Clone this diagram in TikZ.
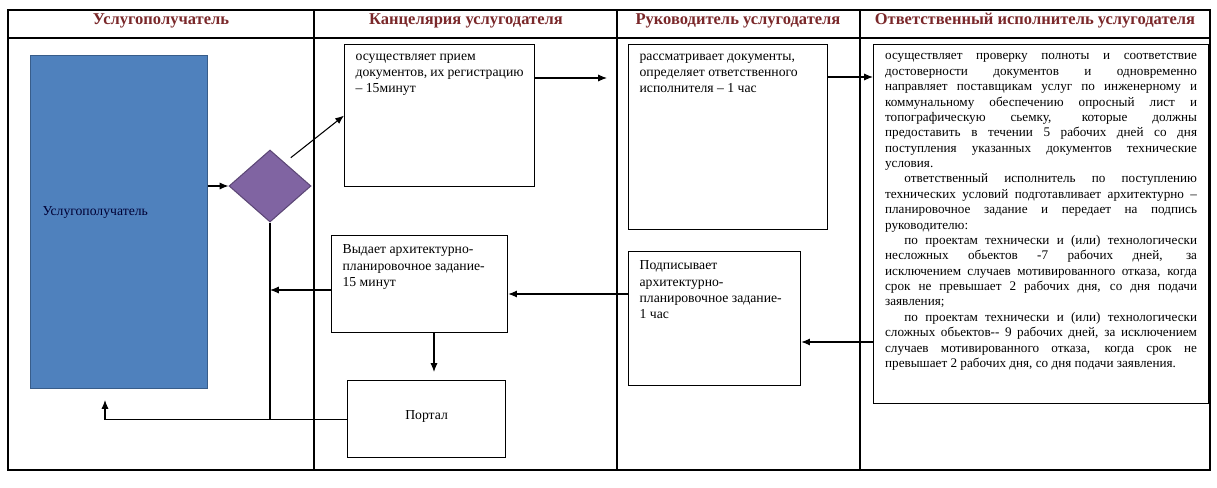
\documentclass[tikz,border=0pt]{standalone}
\usepackage{fontspec}
\setmainfont{Liberation Serif}
\usetikzlibrary{arrows.meta, positioning, shapes.geometric, calc}
\definecolor{headred}{RGB}{122,40,42}
\definecolor{userblue}{RGB}{79,129,189}
\definecolor{userblueline}{RGB}{56,93,138}
\definecolor{decpurple}{RGB}{128,100,162}
\definecolor{decpurpleline}{RGB}{92,71,118}
\tikzset{
  cell/.style={draw, line width=0.7pt, anchor=north west, inner xsep=0.22cm, inner ysep=0.06cm,
               font=\fontsize{7.8}{9.3}\selectfont},
  lanehead/.style={font=\fontsize{9.4}{11}\selectfont\bfseries, text=headred},
  arr/.style={-{Latex[length=5pt,width=4pt]}, line width=0.6pt}
}
% text block with fixed size, set from the top
\newcommand{\celltext}[3]{\parbox[c][#2][t]{#1}{\vspace*{3.5pt}#3}}

\begin{document}
\begin{tikzpicture}[x=0.02cm, y=-0.02cm]
\useasboundingbox (0,0) rectangle (1217,487);
% table frame
\draw[line width=0.6pt] (8,10) rectangle (1210,470);
\draw[line width=0.6pt] (8,38) -- (1210,38);
\foreach \x in {314,617,860}
  \draw[line width=0.6pt] (\x,10) -- (\x,470);
\node[lanehead] (h1) at (161,21) {Услугополучатель};
\node[lanehead] (h2) at (466,21) {Канцелярия услугодателя};
\node[lanehead] (h3) at (738,21) {Руководитель услугодателя};
\node[lanehead] (h4) at (1035,21) {Ответственный исполнитель услугодателя};

% service receiver and decision
\node[draw=userblueline, fill=userblue, line width=0.6pt, anchor=north west, minimum width=3.54cm,
      minimum height=6.66cm, inner xsep=0.24cm, text width=3.06cm, align=left,
      font=\fontsize{7.8}{9.3}\selectfont, text=black!80!blue] (user) at (30,55)
      {\raisebox{0.42cm}{Услугополучатель}};
\node[diamond, draw=decpurpleline, fill=decpurple, line width=0.6pt, inner sep=0pt,
      minimum width=1.64cm, minimum height=1.44cm] (dec) at (270,186) {};

% boxes
\node[cell] (reg) at (344,44) {\celltext{3.36cm}{2.72cm}{осуществляет прием\\документов, их регистрацию\\– 15минут}};
\node[cell] (head) at (628,44) {\celltext{3.54cm}{3.58cm}{рассматривает документы,\\определяет ответственного\\исполнителя – 1 час}};
\node[cell, inner xsep=0.23cm, font=\fontsize{7.5}{8.75}\selectfont] (exec) at (873,44)
  {\celltext{6.24cm}{7.06cm}{\parindent=11pt\emergencystretch=2em
  \noindent осуществляет проверку полноты и соответствие\linebreak
  достоверности документов и одновременно\linebreak
  направляет поставщикам услуг по инженерному и\linebreak
  коммунальному обеспечению опросный лист и\linebreak
  топографическую сьемку, которые должны\linebreak
  предоставить в течении 5 рабочих дней со дня\linebreak
  поступления указанных документов технические\linebreak
  условия.

  ответственный исполнитель по поступлению\linebreak
  технических условий подготавливает архитектурно –\linebreak
  планировочное задание и передает на подпись\linebreak
  руководителю:

  по проектам технически и (или) технологически\linebreak
  несложных обьектов -7 рабочих дней, за\linebreak
  исключением случаев мотивированного отказа, когда\linebreak
  срок не превышает 2 рабочих дня, со дня подачи\linebreak
  заявления;

  по проектам технически и (или) технологически\linebreak
  сложных обьектов-{}- 9 рабочих дней, за исключением\linebreak
  случаев мотивированного отказа, когда срок не\linebreak
  превышает 2 рабочих дня, со дня подачи заявления.}};
\node[cell] (sign) at (628,251) {\celltext{3.0cm}{2.56cm}{Подписывает\\архитектурно-\\планировочное задание-\\1 час}};
\node[cell] (issue) at (331,235) {\celltext{3.08cm}{1.82cm}{Выдает архитектурно-\\планировочное задание-\\15 минут}};
\node[draw, line width=0.7pt, anchor=north west, minimum width=3.16cm, minimum height=1.54cm,
      font=\fontsize{7.8}{9.3}\selectfont] (portal) at (347,380) {\raisebox{0.18cm}{Портал}};

% connectors
\coordinate (p1) at (607,78);
\coordinate (p2) at (850,77);
\coordinate (p3) at (840,342);
\coordinate (p4) at (700,294);
\coordinate (p5) at (300,290);
\coordinate (p6) at (434,372);
\coordinate (p7) at (105,400);
\draw[arr] (user.east |- dec.west) -- (dec.west);
\draw[arr] ($(dec.north east)+(0,-10)$) -- (reg.west);
\draw[arr] (reg.east |- p1) -- (p1);
\draw[arr] (head.east |- p2) -- (exec.west |- p2);
\draw[arr] (exec.west |- p3) -- (sign.east |- p3);
\draw[arr] (sign.west |- p4) -- (issue.east |- p4);
\draw[line width=0.6pt] (dec.south) -- (dec.south |- portal.west);
\draw[arr] (issue.west |- p5) -- (dec.south |- p5);
\draw[arr] (issue.south -| p6) -- (p6);
\draw[arr] (portal.west) -| (p7);
\end{tikzpicture}
\end{document}
